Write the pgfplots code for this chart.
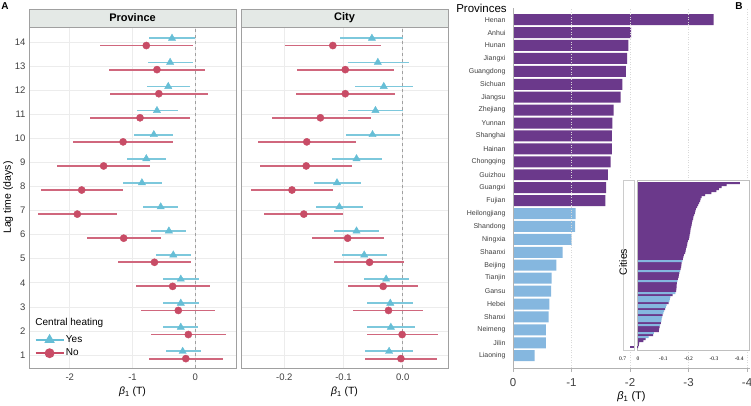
\documentclass[border=0pt]{standalone}
\usepackage{pgfplots}
\pgfplotsset{compat=1.18}
\usepackage{pgfplotstable}
\usepackage{fontspec}
\setmainfont{Liberation Sans}
\newfontfamily\serifnum{Liberation Serif}

\definecolor{yescol}{RGB}{102,190,214}
\definecolor{nocol}{RGB}{200,76,102}
\definecolor{purp}{RGB}{107,57,139}
\definecolor{lblue}{RGB}{133,183,223}
\definecolor{stripfill}{RGB}{228,233,230}
\definecolor{framecol}{RGB}{160,160,160}
\definecolor{gridcol}{RGB}{236,236,236}

% lag, Yes (est, lo, hi), No (est, lo, hi)
\pgfplotstableread{
lag yes ylo yhi no nlo nhi
14 -0.37 -0.73 -0.01 -0.78 -1.52 -0.03
13 -0.40 -0.75 -0.04 -0.61 -1.37 0.16
12 -0.43 -0.77 -0.09 -0.58 -1.36 0.20
11 -0.61 -0.93 -0.28 -0.88 -1.68 -0.09
10 -0.66 -0.98 -0.35 -1.15 -1.95 -0.36
9 -0.78 -1.09 -0.47 -1.46 -2.20 -0.72
8 -0.85 -1.15 -0.53 -1.81 -2.46 -1.15
7 -0.55 -0.83 -0.27 -1.88 -2.51 -1.24
6 -0.42 -0.70 -0.14 -1.14 -1.72 -0.55
5 -0.35 -0.63 -0.07 -0.65 -1.23 -0.06
4 -0.23 -0.51 0.06 -0.36 -0.94 0.23
3 -0.23 -0.51 0.06 -0.27 -0.86 0.32
2 -0.23 -0.51 0.05 -0.11 -0.70 0.49
1 -0.20 -0.47 0.09 -0.15 -0.74 0.45
}\provtab

\pgfplotstableread{
lag yes ylo yhi no nlo nhi
14 -0.052 -0.106 0.000 -0.118 -0.199 -0.036
13 -0.042 -0.093 0.010 -0.097 -0.179 -0.014
12 -0.032 -0.080 0.017 -0.097 -0.180 -0.013
11 -0.046 -0.092 0.000 -0.139 -0.221 -0.054
10 -0.051 -0.096 -0.005 -0.162 -0.245 -0.079
9 -0.078 -0.119 -0.035 -0.163 -0.241 -0.085
8 -0.111 -0.149 -0.071 -0.187 -0.256 -0.117
7 -0.107 -0.146 -0.067 -0.167 -0.235 -0.100
6 -0.078 -0.116 -0.040 -0.093 -0.153 -0.031
5 -0.065 -0.102 -0.027 -0.056 -0.116 0.003
4 -0.028 -0.065 0.011 -0.033 -0.092 0.026
3 -0.021 -0.060 0.017 -0.024 -0.084 0.035
2 -0.020 -0.060 0.020 -0.001 -0.061 0.060
1 -0.023 -0.063 0.017 -0.003 -0.063 0.058
}\citytab

\pgfplotsset{
  panelA/.style={
    scale only axis, width=207pt, height=341pt,
    ymin=0.46, ymax=14.62, ytick={1,...,14},
    axis line style={framecol, line width=0.8pt},
    grid=major, grid style={gridcol, line width=0.6pt},
    major tick length=0pt,
    tick label style={font=\fontsize{9.5}{11}\selectfont, text=black!75},
    xticklabel style={yshift=-2pt},
    label style={font=\fontsize{10.5}{12}\selectfont},
    /pgf/number format/assume math mode=true,
  },
  yesplot/.style={only marks, mark=triangle*, mark size=4.2pt, yescol,
    error bars/x dir=both, error bars/x explicit, error bars/error mark=none,
    error bars/error bar style={line width=1.8pt, yescol!85}},
  noplot/.style={only marks, mark=*, mark size=3.6pt, nocol,
    error bars/x dir=both, error bars/x explicit, error bars/error mark=none,
    error bars/error bar style={line width=1.8pt, nocol!85}},
}

\begin{document}
\begin{tikzpicture}
\useasboundingbox (0pt,0pt) rectangle (751pt,405pt);

% ---------- Panel A: Province ----------
\begin{axis}[panelA, at={(29pt,37pt)}, anchor=south west,
  xmin=-2.65, xmax=0.65, xtick={-2,-1,0},
  ylabel={Lag time (days)}, ylabel shift=-5pt,
  xlabel={\textit{β}\textsubscript{1} (T)},
  legend style={at={(0.012,0.063)}, anchor=west, draw=none, fill=none,
    font=\fontsize{10}{12}\selectfont, row sep=2pt,
    nodes={inner sep=1.5pt}},
  legend cell align=left,
  legend image code/.code={\draw[mark repeat=2, mark phase=2, #1]
    plot coordinates {(0pt,0pt) (14pt,0pt) (28pt,0pt)};},
]
\addplot[dashed, framecol, line width=0.9pt, forget plot] coordinates {(0,0.46) (0,14.62)};
\addplot[forget plot, yesplot] table[x=yes, y expr=\thisrow{lag}+0.15,
  x error plus expr=\thisrow{yhi}-\thisrow{yes},
  x error minus expr=\thisrow{yes}-\thisrow{ylo}] {\provtab};
\addplot[forget plot, noplot] table[x=no, y expr=\thisrow{lag}-0.15,
  x error plus expr=\thisrow{nhi}-\thisrow{no},
  x error minus expr=\thisrow{no}-\thisrow{nlo}] {\provtab};
\addlegendimage{yescol, line width=1.8pt, mark=triangle*, mark size=4.2pt, mark options={solid}}
\addlegendentry{Yes}
\addlegendimage{nocol, line width=1.8pt, mark=*, mark size=4pt, mark options={solid}}
\addlegendentry{No}
\node[anchor=west, font=\fontsize{10}{12}\selectfont] at (rel axis cs:0.014,0.132) {Central heating};
\end{axis}
\draw[fill=stripfill, draw=framecol, line width=0.8pt] (29pt,378pt) rectangle (236pt,396pt);
\node[font=\bfseries\fontsize{11}{13}\selectfont] at (132.5pt,387pt) {Province};

% ---------- Panel A: City ----------
\begin{axis}[panelA, at={(241pt,37pt)}, anchor=south west,
  xmin=-0.2731, xmax=0.0765, xtick={-0.2,-0.1,0}, xticklabels={-0.2,-0.1,0.0},
  yticklabels={}, xlabel={\textit{β}\textsubscript{1} (T)},
]
\addplot[dashed, framecol, line width=0.9pt] coordinates {(0,0.46) (0,14.62)};
\addplot[yesplot] table[x=yes, y expr=\thisrow{lag}+0.15,
  x error plus expr=\thisrow{yhi}-\thisrow{yes},
  x error minus expr=\thisrow{yes}-\thisrow{ylo}] {\citytab};
\addplot[noplot] table[x=no, y expr=\thisrow{lag}-0.15,
  x error plus expr=\thisrow{nhi}-\thisrow{no},
  x error minus expr=\thisrow{no}-\thisrow{nlo}] {\citytab};
\end{axis}
\draw[fill=stripfill, draw=framecol, line width=0.8pt] (241pt,378pt) rectangle (448pt,396pt);
\node[font=\bfseries\fontsize{11}{13}\selectfont] at (344.5pt,387pt) {City};

% ---------- Panel B: Provinces ----------
\begin{axis}[at={(513pt,37pt)}, anchor=south west, scale only axis,
  width=237pt, height=360pt,
  x dir=reverse, xmin=-4.05, xmax=0, ymin=0.05, ymax=27.9,
  axis x line*=bottom, axis y line*=left,
  axis line style={-, gray!60, line width=0.8pt},
  xtick={0,-1,-2,-3,-4}, tick align=outside, major tick length=4pt,
  tick style={gray!60, line width=0.8pt},
  ytick={1,...,27}, ytick style={draw=none},
  yticklabels={Liaoning,Jilin,Neimeng,Shanxi,Hebei,Gansu,Tianjin,Beijing,Shaanxi,Ningxia,Shandong,Heilongjiang,Fujian,Guangxi,Guizhou,Chongqing,Hainan,Shanghai,Yunnan,Zhejiang,Jiangsu,Sichuan,Guangdong,Jiangxi,Hunan,Anhui,Henan},
  yticklabel style={font=\fontsize{7}{8}\selectfont, text=black!75},
  xticklabel style={font=\fontsize{11.5}{13}\selectfont, text=black!75, yshift=-3pt},
  /pgf/number format/assume math mode=true,
  xmajorgrids, grid style={gray!30, line width=0.7pt, dash pattern=on 1pt off 1.5pt},
  axis on top,
  xlabel={\textit{β}\textsubscript{1} (T)}, xlabel style={font=\fontsize{11}{13}\selectfont, yshift=2pt},
]
\addplot[xbar, bar shift=0pt, bar width=0.85, fill=purp, draw=none] coordinates {
(-3.43,27) (-2.02,26) (-1.97,25) (-1.95,24) (-1.93,23) (-1.87,22) (-1.84,21)
(-1.72,20) (-1.70,19) (-1.69,18) (-1.69,17) (-1.67,16) (-1.62,15) (-1.59,14) (-1.58,13)};
\addplot[xbar, bar shift=0pt, bar width=0.85, fill=lblue, draw=none] coordinates {
(-1.07,12) (-1.06,11) (-1.00,10) (-0.85,9) (-0.74,8) (-0.66,7) (-0.65,6)
(-0.62,5) (-0.61,4) (-0.56,3) (-0.56,2) (-0.37,1)};
\end{axis}
\node[font=\fontsize{11.5}{13}\selectfont] at (481.5pt,397pt) {Provinces};

% ---------- Panel B inset: Cities (broken segment) ----------
\begin{axis}[at={(623pt,55pt)}, anchor=south west, scale only axis,
  width=11pt, height=170pt, x dir=reverse, xmin=0.66, xmax=0.76,
  ymin=-1.5, ymax=83.5, ytick=\empty, xtick={0.7}, xticklabels={0.7},
  major tick length=0pt,
  xticklabel style={font=\serifnum\fontsize{5.5}{6}\selectfont, yshift=-3pt, xshift=-7pt},
  axis line style={gray!40, line width=0.6pt},
  axis background/.style={fill=white},
]
\addplot[xbar, bar shift=0pt, bar width=1, fill=purp, draw=none] coordinates {(0.7,0)};
\end{axis}

% ---------- Panel B inset: Cities ----------
\begin{axis}[at={(637pt,55pt)}, anchor=south west, scale only axis,
  width=112pt, height=170pt, x dir=reverse, xmin=-0.4387, xmax=0.004,
  ymin=-1.5, ymax=83.5, ytick=\empty,
  xtick={0,-0.1,-0.2,-0.3,-0.4}, xticklabels={0,-0.1,-0.2,-0.3,-0.4},
  major tick length=0pt,
  xticklabel style={font=\serifnum\fontsize{5.5}{6}\selectfont, yshift=-3pt},
  axis line style={gray!50, line width=0.6pt},
  axis background/.style={fill=white},
]
\addplot[xbar, bar shift=0pt, bar width=1, fill=purp, draw=none] coordinates {
(-0.403,82) (-0.35,81) (-0.33,80) (-0.32,79) (-0.31,78) (-0.29,77) (-0.265,76)
(-0.251,75) (-0.247,74) (-0.245,73) (-0.242,72) (-0.238,71) (-0.234,70) (-0.229,69)
(-0.227,68) (-0.225,67) (-0.222,66) (-0.219,65) (-0.218,64) (-0.215,63) (-0.213,62)
(-0.212,61) (-0.210,60) (-0.208,59) (-0.207,58) (-0.206,57) (-0.204,56) (-0.203,55)
(-0.201,54) (-0.197,53) (-0.195,52) (-0.194,51) (-0.192,50) (-0.189,49) (-0.188,48)
(-0.186,47) (-0.181,46) (-0.179,45) (-0.177,44) (-0.172,42) (-0.171,41) (-0.170,40)
(-0.168,39) (-0.163,37) (-0.161,36) (-0.160,35) (-0.158,34) (-0.154,32) (-0.153,31)
(-0.153,30) (-0.152,29) (-0.151,28) (-0.137,26) (-0.121,22) (-0.107,19) (-0.097,16)
(-0.090,12) (-0.085,10) (-0.083,9) (-0.082,8) (-0.060,6) (-0.030,4) (-0.021,3)
(-0.004,2) (-0.003,1) (0.7,0)};
\addplot[xbar, bar shift=0pt, bar width=1, fill=lblue, draw=none] coordinates {
(-0.175,43) (-0.166,38) (-0.156,33) (-0.148,27) (-0.128,25) (-0.126,24) (-0.124,23)
(-0.113,21) (-0.110,20) (-0.103,18) (-0.100,17) (-0.095,15) (-0.093,14) (-0.092,13)
(-0.087,11) (-0.063,7) (-0.042,5)};
\end{axis}
\node[rotate=90, font=\fontsize{10.5}{12}\selectfont] at (623pt,143pt) {Cities};

% ---------- panel letters ----------
\node[font=\bfseries\fontsize{10}{12}\selectfont] at (5pt,399pt) {A};
\node[font=\bfseries\fontsize{10}{12}\selectfont] at (739pt,399pt) {B};
\end{tikzpicture}
\end{document}
